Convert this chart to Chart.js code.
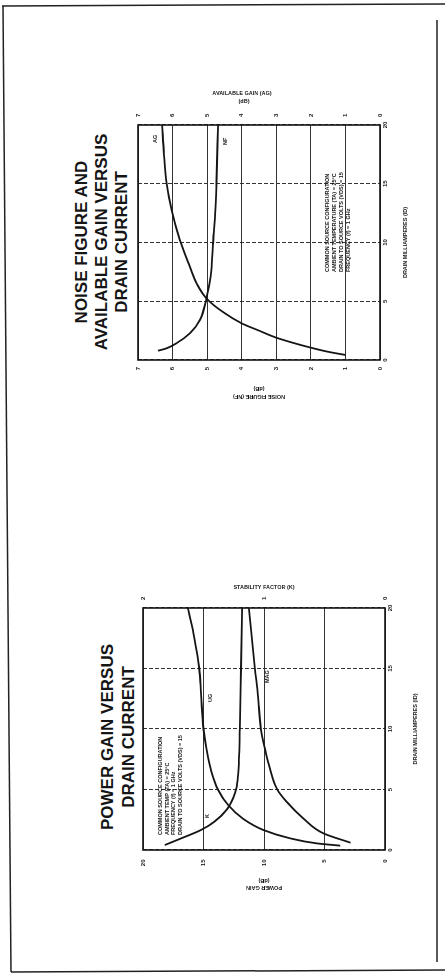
<!DOCTYPE html>
<html>
<head>
<meta charset="utf-8">
<script src="https://cdn.jsdelivr.net/npm/chart.js@4.4.1/dist/chart.umd.min.js"></script>
<style>
  html, body { margin: 0; padding: 0; background: #fff; }
  body { width: 445px; height: 980px; position: relative; overflow: hidden; font-family: "Liberation Sans", Arial, sans-serif; }
  #frame { position: absolute; left: 0; top: 0; }
  /* the scanned page lies on its side: lay it out upright, then turn it */
  #page { position: absolute; left: 0; top: 0; width: 980px; height: 445px; transform-origin: 0 0; transform: translate(0, 980px) rotate(-90deg); }
  .title { position: absolute; width: 400px; text-align: center; font-weight: bold; font-size: 17px; line-height: 20px; color: #151515; }
  canvas { position: absolute; }
</style>
</head>
<body>
<svg id="frame" width="445" height="980">
  <g stroke="#222" stroke-width="1.5" fill="none">
    <line x1="2" y1="6" x2="445" y2="4"/>
    <line x1="3" y1="6" x2="11" y2="972"/>
    <line x1="11" y1="972" x2="445" y2="970"/>
    <line x1="437" y1="20" x2="437" y2="962"/>
  </g>
</svg>
<div id="page">
  <div class="title" style="left:538px;top:72px;">NOISE FIGURE AND<br>AVAILABLE GAIN VERSUS<br>DRAIN CURRENT</div>
  <div class="title" style="left:43px;top:97px;line-height:21px;">POWER GAIN VERSUS<br>DRAIN CURRENT</div>
  <canvas id="pg" width="360" height="320" style="left:60px;top:110px;"></canvas>
  <canvas id="nf" width="350" height="320" style="left:560px;top:110px;"></canvas>
</div>
<script>
// tick labels
const drainTicks = [0, 5, 10, 15, 20];
const dbTicks = [0, 1, 2, 3, 4, 5, 6, 7];
const gainTicks = [0, 5, 10, 15, 20];
const kTicks = [0, 1, 2];

// noise figure / available gain vs drain current (mA)
const nfDrain = [0.79, 0.99, 1.42, 2.27, 3.4, 5.25, 7.09, 9.93, 12.77, 15.18, 18.4, 20];
const nfValues = [6.42, 6.18, 5.89, 5.5, 5.21, 5.02, 4.9, 4.83, 4.76, 4.73, 4.7, 4.68];
const agDrain = [0.43, 0.7, 1.05, 1.45, 1.9, 2.5, 3.12, 4.1, 5.25, 6.5, 7.94, 10.2, 12.77, 15.18, 17.5, 20];
const agValues = [1.0, 1.5, 2.0, 2.5, 3.0, 3.5, 4.0, 4.55, 5.02, 5.3, 5.5, 5.79, 6.03, 6.18, 6.25, 6.3];

// power gain / stability factor vs drain current (mA)
const ugDrain = [0.36, 0.55, 0.97, 1.66, 2.57, 3.72, 4.97, 6.48, 8.41, 10, 12.8, 15, 17.5, 20];
const ugValues = [3.7, 5.66, 7.86, 10.07, 11.72, 12.97, 13.79, 14.34, 14.76, 15.0, 15.2, 15.35, 15.75, 16.3];
const magDrain = [0.6, 1.38, 2.62, 4.0, 5.0, 6.76, 8.41, 10, 12.8, 15, 17.5, 20];
const magValues = [2.85, 5.1, 6.76, 8.14, 8.9, 9.52, 9.93, 10.25, 10.5, 10.75, 11.0, 11.25];
const kDrain = [0.41, 1.02, 1.66, 2.34, 3.31, 4.28, 5.1, 6.21, 7.86, 10.07, 15, 20];
const kValues = [1.82, 1.67, 1.52, 1.41, 1.31, 1.255, 1.228, 1.214, 1.206, 1.2, 1.19, 1.18];

const ink = '#151515';
const tickFont = { family: 'Liberation Sans', size: 6, weight: 'bold' };
const axisFont = { family: 'Liberation Sans', size: 5.5, weight: 'bold', lineHeight: 1.5 };
const noteFont = 'bold 5.5px "Liberation Sans"';

const pts = (xs, ys) => xs.map((x, i) => ({ x: x, y: ys[i] }));
const useTicks = arr => scale => { scale.ticks = arr.map(v => ({ value: v })); };

const curve = (xs, ys, axis) => ({
  data: pts(xs, ys),
  yAxisID: axis,
  borderColor: ink,
  borderWidth: 1.8,
  pointRadius: 0,
  cubicInterpolationMode: 'monotone',
  fill: false
});

// frame round the plot area
const boxPlugin = {
  id: 'box',
  afterDraw(chart) {
    const a = chart.chartArea, ctx = chart.ctx;
    ctx.save();
    ctx.strokeStyle = ink;
    ctx.lineWidth = 1.6;
    ctx.strokeRect(a.left, a.top, a.right - a.left, a.bottom - a.top);
    ctx.restore();
  }
};

// loose labels printed on the chart
const notesPlugin = {
  id: 'notes',
  afterDraw(chart, args, opts) {
    const ctx = chart.ctx;
    (opts.items || []).forEach(n => {
      ctx.save();
      ctx.font = n.font || noteFont;
      ctx.fillStyle = ink;
      ctx.textBaseline = 'middle';
      ctx.textAlign = n.align || 'left';
      ctx.translate(n.x, n.y);
      if (n.rot) ctx.rotate(n.rot * Math.PI / 180);
      ctx.fillText(n.text, 0, 0);
      ctx.restore();
    });
  }
};

function xScale(height, titlePad) {
  return {
    type: 'linear', min: 0, max: 20,
    afterBuildTicks: useTicks(drainTicks),
    afterFit: s => { s.height = height; },
    ticks: { font: tickFont, color: ink, padding: 2, maxRotation: 0 },
    grid: { color: '#333', lineWidth: 1, drawTicks: false },
    border: { display: false, dash: [4, 2] },
    title: { display: true, text: 'DRAIN MILLIAMPERES (ID)', color: ink,
             font: Object.assign({}, axisFont, { lineHeight: 1.2 }), padding: { top: 0, bottom: titlePad } }
  };
}

new Chart(document.getElementById('nf'), {
  type: 'line',
  data: { datasets: [curve(nfDrain, nfValues, 'y'), curve(agDrain, agValues, 'y2')] },
  plugins: [boxPlugin, notesPlugin],
  options: {
    responsive: false,
    animation: false,
    layout: { padding: { top: 28, left: 0, right: 0, bottom: 0 } },
    scales: {
      x: xScale(50, 21.7),
      y: {
        min: 0, max: 7,
        afterBuildTicks: useTicks(dbTicks),
        afterFit: s => { s.width = 60; },
        ticks: { font: tickFont, color: ink, padding: 7 },
        grid: { color: '#333', lineWidth: 1, drawTicks: false },
        border: { display: false },
        title: { display: true, text: ['NOISE FIGURE (NF)', '(dB)'], color: ink, font: axisFont, padding: { top: 18.9, bottom: 0 } }
      },
      y2: {
        position: 'right', min: 0, max: 7,
        afterBuildTicks: useTicks(dbTicks),
        afterFit: s => { s.width = 55; },
        ticks: { font: tickFont, color: ink, padding: 8 },
        grid: { display: false, drawTicks: false },
        border: { display: false }
      }
    },
    plugins: {
      legend: { display: false },
      tooltip: { enabled: false },
      notes: {
        items: [
          { text: 'AG', x: 277, y: 45 },
          { text: 'NF', x: 275, y: 115 },
          { text: 'COMMON SOURCE CONFIGURATION', x: 148, y: 217 },
          { text: 'AMBIENT TEMPERATURE (TA) = 25°C', x: 148, y: 224 },
          { text: 'DRAIN TO SOURCE VOLTS (VDS) = 15', x: 148, y: 231 },
          { text: 'FREQUENCY (f) = 1 GHz', x: 148, y: 238 },
          { text: 'AVAILABLE GAIN (AG)', x: 327, y: 132, rot: 90, align: 'center' },
          { text: '(dB)', x: 319, y: 134, rot: 90, align: 'center' }
        ]
      }
    }
  }
});

new Chart(document.getElementById('pg'), {
  type: 'line',
  data: { datasets: [curve(ugDrain, ugValues, 'y'), curve(magDrain, magValues, 'y'), curve(kDrain, kValues, 'y2')] },
  plugins: [boxPlugin, notesPlugin],
  options: {
    responsive: false,
    animation: false,
    layout: { padding: { top: 33, left: 0, right: 0, bottom: 0 } },
    scales: {
      x: xScale(45, 11.7),
      y: {
        min: 0, max: 20,
        afterBuildTicks: useTicks(gainTicks),
        afterFit: s => { s.width = 70; },
        ticks: { font: tickFont, color: ink, padding: 9.5 },
        grid: { color: '#333', lineWidth: 1, drawTicks: false },
        border: { display: false },
        title: { display: true, text: ['POWER GAIN', '(dB)'], color: ink,
                 font: Object.assign({}, axisFont, { lineHeight: 1.45 }), padding: { top: 28, bottom: 0 } }
      },
      y2: {
        position: 'right', min: 0, max: 2,
        afterBuildTicks: useTicks(kTicks),
        afterFit: s => { s.width = 48; },
        ticks: { font: tickFont, color: ink, padding: 8 },
        grid: { display: false, drawTicks: false },
        border: { display: false },
        title: { display: true, text: 'STABILITY FACTOR (K)', color: ink,
                 font: Object.assign({}, axisFont, { lineHeight: 1.2 }), padding: { top: 23.7, bottom: 0 } }
      }
    },
    plugins: {
      legend: { display: false },
      tooltip: { enabled: false },
      notes: {
        items: [
          { text: 'COMMON SOURCE CONFIGURATION', x: 85, y: 50 },
          { text: 'AMBIENT TEMP (TA) = 25°C', x: 85, y: 57 },
          { text: 'FREQUENCY (f) = 1 GHz', x: 85, y: 63 },
          { text: 'DRAIN TO SOURCE VOLTS (VDS) = 15', x: 85, y: 70 },
          { text: 'K', x: 102, y: 97 },
          { text: 'UG', x: 218, y: 100 },
          { text: 'MAG', x: 237, y: 157 }
        ]
      }
    }
  }
});
</script>
</body>
</html>
